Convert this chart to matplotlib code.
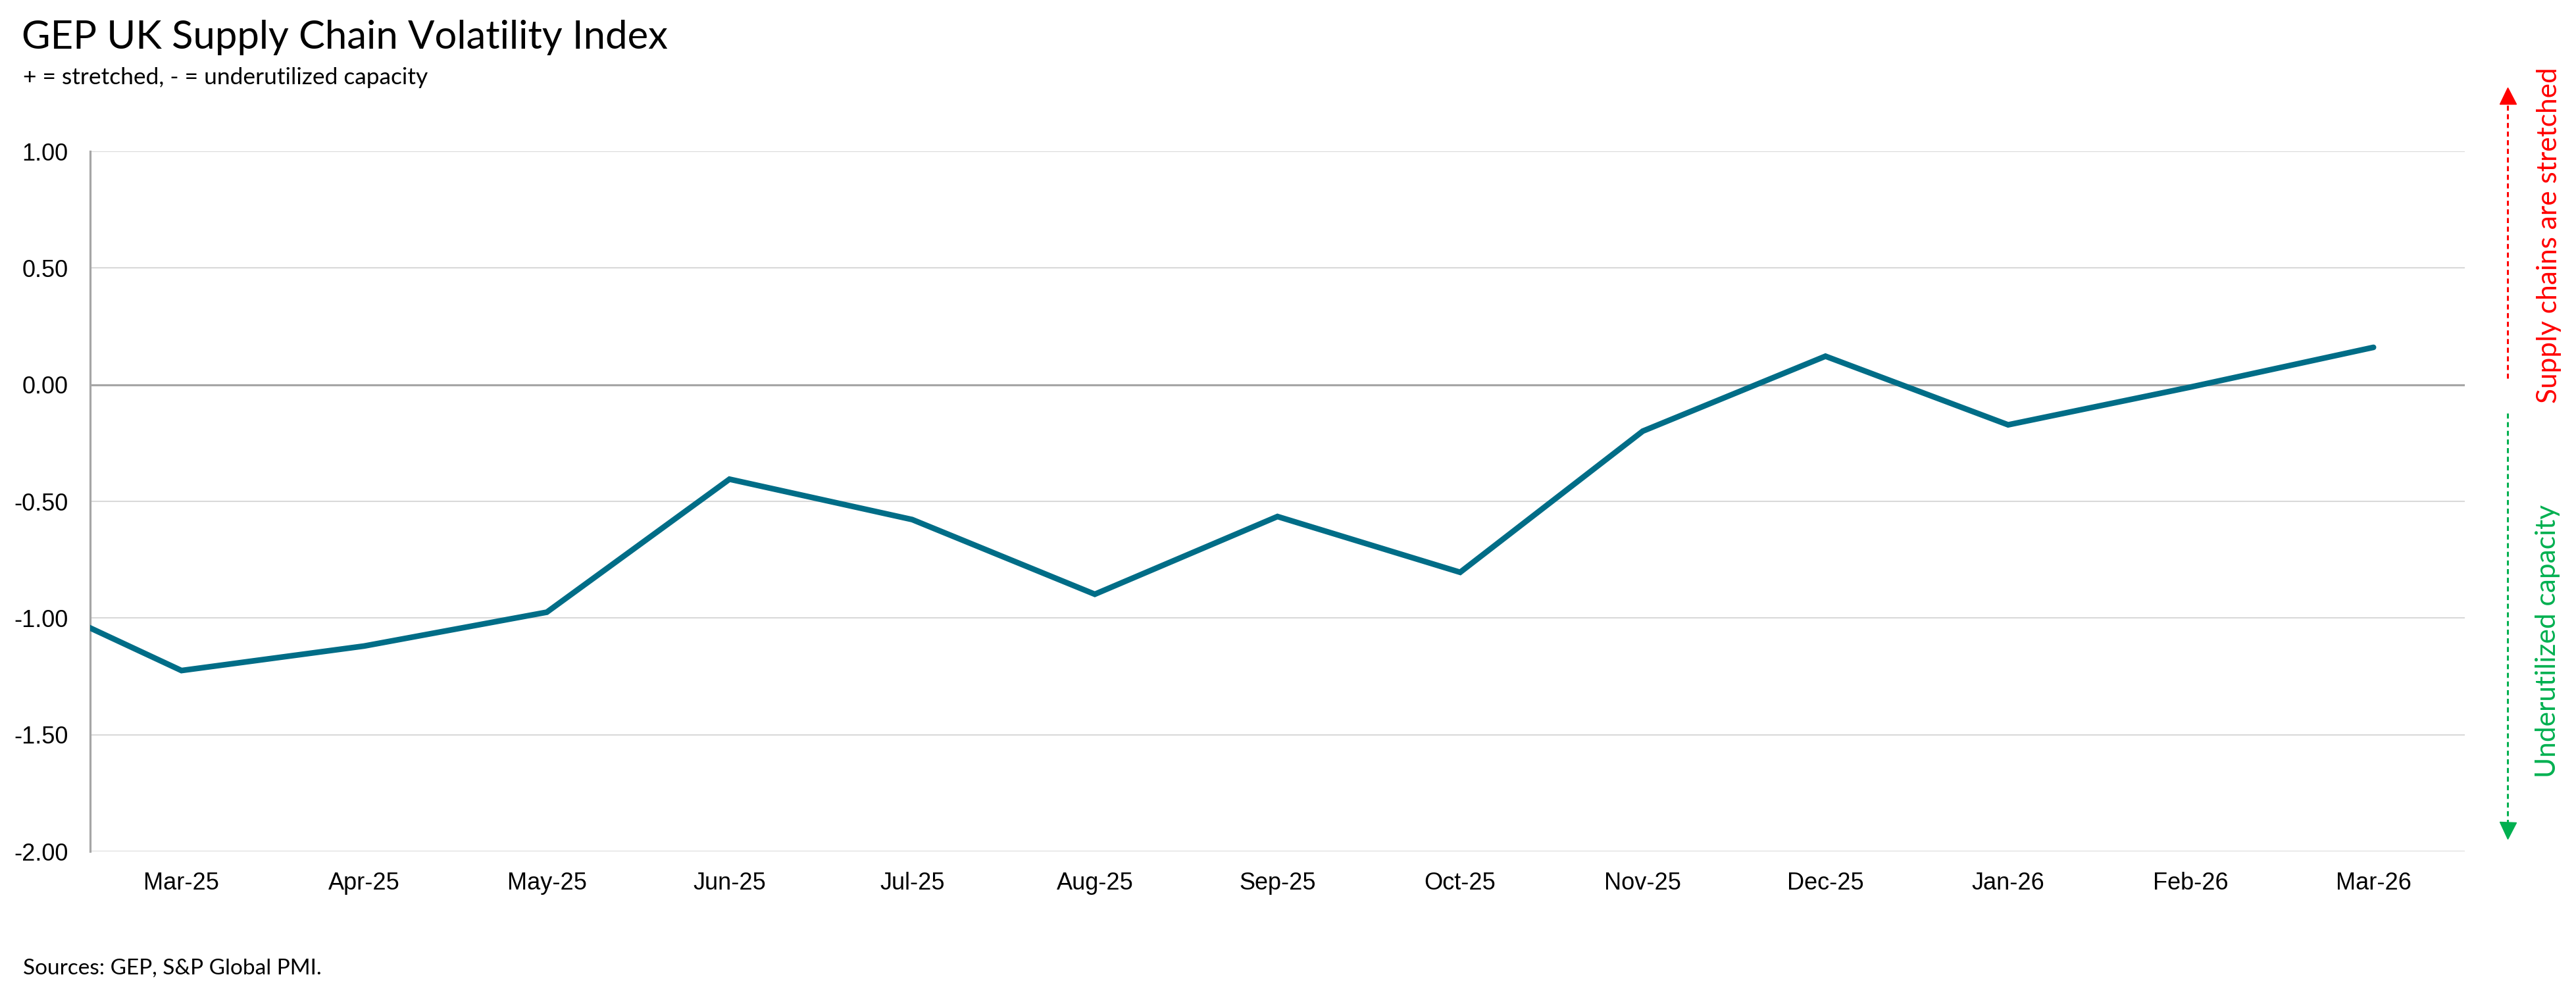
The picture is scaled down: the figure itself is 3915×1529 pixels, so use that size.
import matplotlib
matplotlib.use('Agg')
import matplotlib.pyplot as plt
from matplotlib.lines import Line2D

# =======================
# Data
# =======================
months = ['Feb-25', 'Mar-25', 'Apr-25', 'May-25', 'Jun-25', 'Jul-25', 'Aug-25',
          'Sep-25', 'Oct-25', 'Nov-25', 'Dec-25', 'Jan-26', 'Feb-26', 'Mar-26']
index_values = [-0.86, -1.225, -1.12, -0.975, -0.405, -0.578, -0.898,
                -0.565, -0.804, -0.199, 0.122, -0.172, -0.01, 0.16]
shown_months = months[1:]
y_ticks = [1.0, 0.5, 0.0, -0.5, -1.0, -1.5, -2.0]

title = 'GEP UK Supply Chain Volatility Index'
subtitle = '+ = stretched, - = underutilized capacity'
source = 'Sources: GEP, S&P Global PMI.'

line_color = '#006D87'
grid_color = '#D9D9D9'
axis_color = '#A6A6A6'
red = '#FF0000'
green = '#00B050'

W, H = 3916, 1529
fig = plt.figure(figsize=(W / 100, H / 100), dpi=100)
ax = fig.add_axes([137 / W, 1 - 1294 / H, (3746 - 137) / W, (1294 - 230) / H])

x = list(range(len(months)))
ax.plot(x, index_values, color=line_color, lw=6.2, solid_capstyle='round',
        solid_joinstyle='miter', zorder=3)

ax.set_xlim(0.5, len(months) - 0.5)
ax.set_ylim(-2.0, 1.0)
ax.set_xticks(x[1:])
ax.set_xticklabels(shown_months, family='Liberation Sans', fontsize=26)
ax.set_yticks(y_ticks)
ax.set_yticklabels([f'{v:.2f}' for v in y_ticks], family='Liberation Sans', fontsize=26)
ax.tick_params(axis='both', length=0)
ax.tick_params(axis='y', pad=24)
ax.tick_params(axis='x', pad=22)

for v in y_ticks:
    if v == 0:
        ax.axhline(v, color=axis_color, lw=2.3, zorder=2)
    else:
        ax.axhline(v, color=grid_color, lw=1.5, zorder=1)

for side in ['top', 'right', 'bottom']:
    ax.spines[side].set_visible(False)
ax.spines['left'].set_color(axis_color)
ax.spines['left'].set_linewidth(2.3)

# texts around the plot
fig.text(33 / W, 1 - 57 / H, title, family='Lato', fontsize=43, va='center', ha='left')
fig.text(35 / W, 1 - 118 / H, subtitle, family='Lato', fontsize=25.5, va='center', ha='left')
fig.text(35 / W, 1 - 1472 / H, source, family='Lato', fontsize=24, va='center', ha='left')

# right side arrows, drawn on an overlay in pixel coordinates
ov = fig.add_axes([0, 0, 1, 1])
ov.set_xlim(0, W)
ov.set_ylim(H, 0)
ov.axis('off')

arrow_x = 3811
ov.add_line(Line2D([arrow_x, arrow_x], [575, 150], color=red, lw=2.2, ls=(0, (2.5, 1.8))))
ov.plot([arrow_x], [145], marker='^', ms=18, color=red, mec=red)
ov.add_line(Line2D([arrow_x, arrow_x], [628, 1255], color=green, lw=2.2, ls=(0, (2.5, 1.8))))
ov.plot([arrow_x], [1262], marker='v', ms=18, color=green, mec=green)

ov.text(3874, 358, 'Supply chains are stretched', color=red, family='Lato', fontsize=30.5,
        rotation=90, ha='center', va='center')
ov.text(3872, 974, 'Underutilized capacity', color=green, family='Lato', fontsize=30.5,
        rotation=90, ha='center', va='center')

fig.savefig('out.png', dpi=100)
